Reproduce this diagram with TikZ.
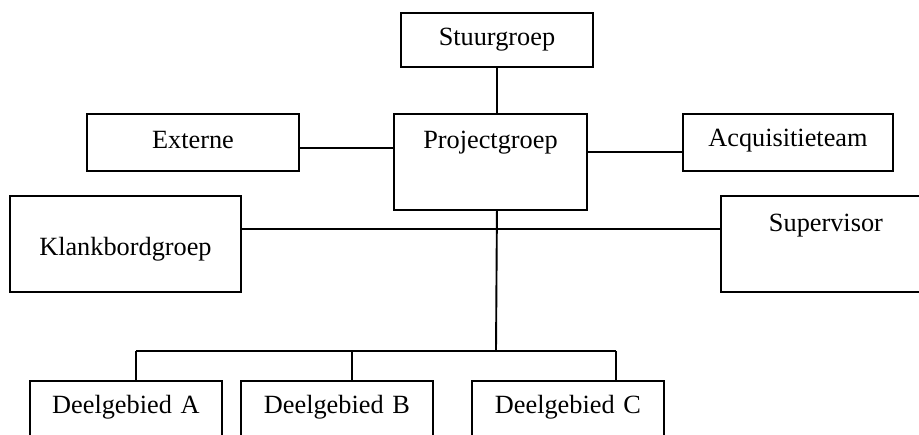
\documentclass[tikz,border=0pt]{standalone}
\usepackage{fontspec}
\setmainfont{Liberation Serif}
\begin{document}
\begin{tikzpicture}[x=1pt,y=-1pt,
  box/.style={draw, line width=1.9pt, inner sep=0pt, align=center, anchor=north west,
              font=\fontsize{26.3}{30}\selectfont},
  conn/.style={line width=1.9pt}]
\useasboundingbox (0,0) rectangle (919,435);
\clip (0,0) rectangle (919,435);
% boxes
\node[box, text width=192pt, text height=33pt, text depth=21pt] (stuur) at (400,12) {Stuurgroep};
\node[box, text width=193pt, text height=34.5pt, text depth=61.5pt] (proj) at (393,113) {Projectgroep};
\node[box, text width=212pt, text height=35pt, text depth=22pt] (ext) at (86,113) {Externe};
\node[box, text width=210pt, text height=33pt, text depth=24pt] (acq) at (682,113) {Acquisitieteam};
\node[box, text width=231pt, text height=59.5pt, text depth=36.5pt] (klank) at (9,195) {Klankbordgroep};
\node[box, text width=210pt, text height=35.5pt, text depth=60.5pt] (sup) at (720,195) {Supervisor};
\node[box, text width=192pt, text height=32.5pt, text depth=40pt] (dA) at (29,380) {Deelgebied A};
\node[box, text width=192pt, text height=32.5pt, text depth=40pt] (dB) at (240,380) {Deelgebied B};
\node[box, text width=192pt, text height=32.5pt, text depth=40pt] (dC) at (471,380) {Deelgebied C};
% junction points
\coordinate (hub) at (496,351);
\coordinate (bA) at (136,351);
\coordinate (bB) at (352,351);
\coordinate (bC) at (616,351);
% connectors
\draw[conn] (stuur.south) -- (stuur.south |- proj.north);
\draw[conn] ([yshift=-5.5pt]ext.east) -- ([yshift=-5.5pt]ext.east -| proj.west);
\draw[conn] ([yshift=-9.5pt]acq.west) -- ([yshift=-9.5pt]acq.west -| proj.east);
\draw[conn] (stuur.south |- proj.south) -- (hub);
\draw[conn] ([yshift=15pt]klank.east) -- ([yshift=15pt]sup.west);
\draw[conn] (bA) -- (bC);
\draw[conn] (bA) -- (bA |- dA.north);
\draw[conn] (bB) -- (bB |- dB.north);
\draw[conn] (bC) -- (bC |- dC.north);
\end{tikzpicture}
\end{document}
